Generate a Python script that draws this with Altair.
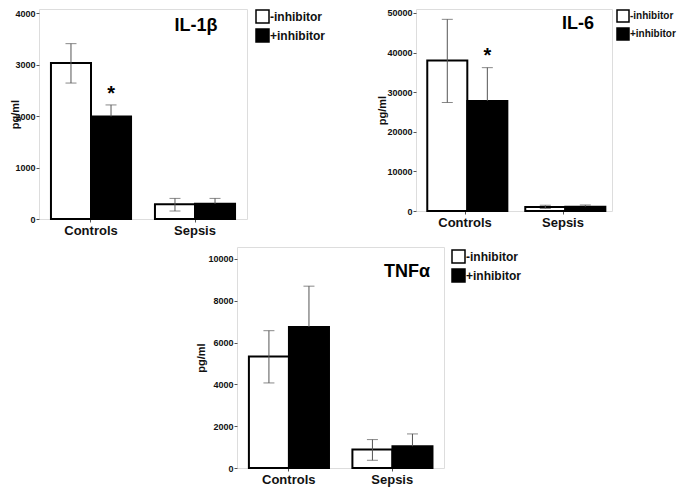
import altair as alt
import pandas as pd

groups = ["Controls", "Sepsis"]
treatments = ["-inhibitor", "+inhibitor"]

# IL-1beta
il1b_minus = [3030, 285]
il1b_plus = [1990, 295]
il1b_minus_lo = [2640, 155]
il1b_minus_hi = [3405, 400]
il1b_plus_hi = [2215, 400]
il1b_star = [2520]          # asterisk above Controls / +inhibitor
il1b_ticks = [0, 1000, 2000, 3000, 4000]

# IL-6
il6_minus = [38000, 1010]
il6_plus = [27800, 1090]
il6_minus_lo = [27400, 600]
il6_minus_hi = [48400, 1450]
il6_plus_hi = [36200, 1520]
il6_star = [40400]
il6_ticks = [0, 10000, 20000, 30000, 40000, 50000]

# TNF-alpha
tnf_minus = [5340, 880]
tnf_plus = [6750, 1040]
tnf_minus_lo = [4070, 370]
tnf_minus_hi = [6570, 1360]
tnf_plus_hi = [8700, 1630]
tnf_star = []
tnf_ticks = [0, 2000, 4000, 6000, 8000, 10000]

FONT = "Liberation Sans"
GREY = "#555555"


def panel(title, minus, plus, minus_lo, minus_hi, plus_hi, star, ticks, ymax,
          width, height, legend_x, legend_y, legend_font, legend_sym,
          title_x, title_y, ytitle_x):
    star_col = [None, None, star[0] if star else None, None]
    df = pd.DataFrame({
        "group": groups * 2,
        "treatment": [treatments[0]] * 2 + [treatments[1]] * 2,
        "mean": minus + plus,
        # lower whisker of the black bars is hidden inside the bar
        "lo": minus_lo + plus,
        "hi": minus_hi + plus_hi,
        "star": star_col,
    })
    df_lo = pd.DataFrame({
        "group": groups,
        "treatment": [treatments[0]] * 2,
        "lo": minus_lo,
    })

    x = alt.X("group:N", sort=groups,
              scale=alt.Scale(paddingInner=0.23, paddingOuter=0.115),
              axis=alt.Axis(title=None, labelAngle=0, domain=False, tickSize=3,
                            tickColor=GREY, labelFontSize=13, labelFontWeight="bold",
                            labelColor="#111", labelPadding=2, labelFont=FONT))
    xo = alt.XOffset("treatment:N", sort=treatments,
                     scale=alt.Scale(paddingInner=0, paddingOuter=0))
    yscale = alt.Scale(domain=[0, ymax], nice=False, zero=True)
    yaxis = alt.Axis(values=ticks, title="pg/ml", format="d", grid=False, domain=False,
                     tickSize=3, tickColor=GREY, labelFontSize=9, labelFontWeight="bold",
                     labelColor="#111", labelPadding=1, labelFont=FONT,
                     titleFontSize=11, titleFontWeight="bold", titleFont=FONT,
                     titleColor="#111", titleX=ytitle_x, titleAngle=270,
                     titleBaseline="middle")

    base = alt.Chart(df)
    bars = base.mark_bar(stroke="black", strokeWidth=2).encode(
        x=x, xOffset=xo,
        y=alt.Y("mean:Q", scale=yscale, axis=yaxis),
        fill=alt.Fill("treatment:N",
                      scale=alt.Scale(domain=treatments, range=["white", "black"]),
                      legend=alt.Legend(orient="none", legendX=legend_x, legendY=legend_y,
                                        title=None, symbolType="square",
                                        symbolSize=legend_sym * legend_sym,
                                        symbolStrokeColor="black", symbolStrokeWidth=1.5,
                                        labelFontSize=legend_font, labelFontWeight="bold",
                                        labelFont=FONT, labelColor="#111",
                                        labelOffset=0, rowPadding=0, padding=0,
                                        symbolOpacity=1)),
    )
    rules = base.mark_rule(color=GREY, strokeWidth=1).encode(
        x=x, xOffset=xo, y=alt.Y("lo:Q", scale=yscale), y2="hi:Q")
    caps_hi = base.mark_tick(color=GREY, size=11, thickness=1).encode(
        x=x, xOffset=xo, y=alt.Y("hi:Q", scale=yscale))
    caps_lo = alt.Chart(df_lo).mark_tick(color=GREY, size=11, thickness=1).encode(
        x=x, xOffset=xo, y=alt.Y("lo:Q", scale=yscale))
    heading = alt.Chart(pd.DataFrame({"t": [title]})).mark_text(
        fontSize=18, fontWeight="bold", font=FONT, color="black",
        align="center", baseline="middle").encode(
        x=alt.value(title_x), y=alt.value(title_y), text="t:N")
    layers = [bars, rules, caps_hi, caps_lo, heading]
    if star:
        stars = base.transform_filter("isValid(datum.star)").mark_text(
            fontSize=20, fontWeight="bold", font=FONT, baseline="middle", dy=5,
            color="black", text="*").encode(
            x=x, xOffset=xo, y=alt.Y("star:Q", scale=yscale))
        layers.append(stars)
    return alt.layer(*layers).properties(width=width, height=height)


p1 = panel("IL-1β", il1b_minus, il1b_plus, il1b_minus_lo, il1b_minus_hi, il1b_plus_hi,
           il1b_star, il1b_ticks, 4078, 208, 210, 216, 0, 12, 13, 157, 17, -24)
p2 = panel("IL-6", il6_minus, il6_plus, il6_minus_lo, il6_minus_hi, il6_plus_hi,
           il6_star, il6_ticks, 51010, 196, 202, 200, 0, 10, 12, 162, 15, -34)
p3 = panel("TNFα", tnf_minus, tnf_plus, tnf_minus_lo, tnf_minus_hi, tnf_plus_hi,
           tnf_star, tnf_ticks, 10574, 207, 221, 214, 2, 12, 13, 170, 25, -36)

spacer = alt.Chart(pd.DataFrame({"a": [0]})).mark_text(text="").encode(
    x=alt.value(0), y=alt.value(0)).properties(
    width=198, height=20, view=alt.ViewBackground(stroke=None))

top = alt.hconcat(p1, p2, spacing=169, bounds="flush").resolve_scale(
    fill="independent", y="independent", x="independent").resolve_legend(fill="independent")
bottom = alt.hconcat(spacer, p3, spacing=0, bounds="flush").resolve_scale(
    fill="independent", y="independent", x="independent").resolve_legend(fill="independent")

chart = alt.vconcat(top, bottom, spacing=3).resolve_scale(
    fill="independent", y="independent", x="independent").resolve_legend(
    fill="independent").properties(padding=0).configure_view(
    stroke=GREY, strokeWidth=1.5).configure(background="white")

chart.save("out.html", embed_options={"renderer": "svg", "actions": False})
